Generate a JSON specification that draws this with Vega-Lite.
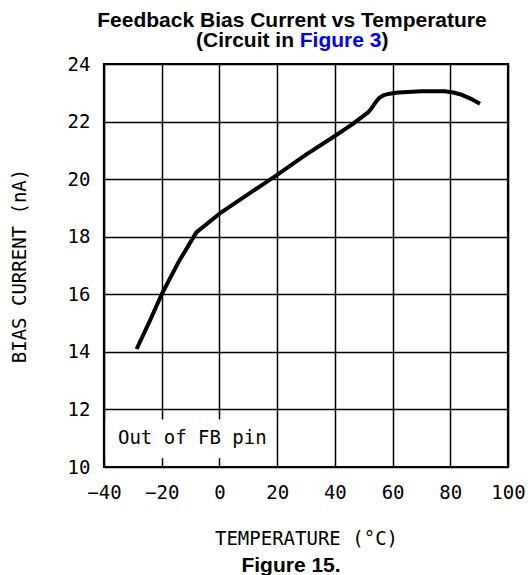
{
  "$schema": "https://vega.github.io/schema/vega-lite/v6.json",
  "width": 404,
  "height": 403,
  "autosize": {"type": "none"},
  "padding": {"left": 104, "top": 64, "right": 20, "bottom": 108},
  "background": "white",
  "title": {
    "text": "Feedback Bias Current vs Temperature",
    "font": "Liberation Sans", "fontSize": 21, "fontWeight": "bold", "color": "black",
    "anchor": "middle", "frame": "group", "dx": -14, "offset": -1
  },
  "config": {
    "view": {"stroke": "black", "strokeWidth": 2.2}
  },
  "layer": [
    {
      "data": {"values": [
        {"temp": -28.7, "current": 14.1},
        {"temp": -24, "current": 15.1},
        {"temp": -20, "current": 16.0},
        {"temp": -14, "current": 17.15},
        {"temp": -8, "current": 18.15},
        {"temp": 0, "current": 18.8},
        {"temp": 10, "current": 19.48},
        {"temp": 20, "current": 20.15},
        {"temp": 30, "current": 20.85},
        {"temp": 40, "current": 21.5},
        {"temp": 46, "current": 21.9},
        {"temp": 51.5, "current": 22.32},
        {"temp": 52.5, "current": 22.43},
        {"temp": 53.5, "current": 22.58},
        {"temp": 54.5, "current": 22.72},
        {"temp": 55.5, "current": 22.83},
        {"temp": 57, "current": 22.92},
        {"temp": 59, "current": 22.97},
        {"temp": 62, "current": 23.01},
        {"temp": 70, "current": 23.05},
        {"temp": 78, "current": 23.05},
        {"temp": 81, "current": 23.01},
        {"temp": 84, "current": 22.93},
        {"temp": 87, "current": 22.8},
        {"temp": 90.3, "current": 22.62}
      ]},
      "mark": {"type": "line", "color": "black", "strokeWidth": 4, "strokeJoin": "round", "strokeCap": "butt"},
      "encoding": {
        "x": {"field": "temp", "type": "quantitative",
          "scale": {"domain": [-40, 100], "nice": false, "zero": false},
          "axis": {"values": [-40, -20, 0, 20, 40, 60, 80, 100], "grid": true, "gridColor": "black", "gridWidth": 1.5, "gridOpacity": 1,
            "domain": false, "ticks": false, "labelFont": "DejaVu Sans Mono", "labelFontSize": 19, "labelColor": "black",
            "labelPadding": 16, "labelFlush": false, "labelOverlap": false,
            "title": "TEMPERATURE (°C)", "titleFont": "DejaVu Sans Mono", "titleFontSize": 19, "titleFontWeight": "normal",
            "titleColor": "black", "titlePadding": 27}},
        "y": {"field": "current", "type": "quantitative",
          "scale": {"domain": [10, 24], "nice": false, "zero": false},
          "axis": {"values": [10, 12, 14, 16, 18, 20, 22, 24], "grid": true, "gridColor": "black", "gridWidth": 1.5, "gridOpacity": 1,
            "domain": false, "ticks": false, "labelFont": "DejaVu Sans Mono", "labelFontSize": 19, "labelColor": "black",
            "labelPadding": 14, "labelFlush": false, "labelOverlap": false,
            "title": "BIAS CURRENT (nA)", "titleFont": "DejaVu Sans Mono", "titleFontSize": 19, "titleFontWeight": "normal",
            "titleColor": "black", "titlePadding": 38}}
      }
    },
    {
      "data": {"values": [{"label": "box"}]},
      "mark": {"type": "rect", "fill": "white", "stroke": null},
      "encoding": {
        "x": {"datum": -39.4, "type": "quantitative"},
        "x2": {"datum": 17},
        "y": {"datum": 10.3, "type": "quantitative"},
        "y2": {"datum": 11.65}
      }
    },
    {
      "data": {"values": [{"label": "Out of FB pin"}]},
      "mark": {"type": "text", "font": "DejaVu Sans Mono", "fontSize": 19, "color": "black", "align": "center", "baseline": "middle"},
      "encoding": {
        "text": {"field": "label"},
        "x": {"datum": -9.4, "type": "quantitative"},
        "y": {"datum": 11.0, "type": "quantitative"}
      }
    },
    {
      "data": {"values": [{"label": "(Circuit in"}]},
      "mark": {"type": "text", "font": "Liberation Sans", "fontSize": 21, "fontWeight": "bold", "color": "black", "align": "left", "baseline": "alphabetic"},
      "encoding": {
        "text": {"field": "label"},
        "x": {"datum": -8.12, "type": "quantitative"},
        "y": {"datum": 24.58, "type": "quantitative"}
      }
    },
    {
      "data": {"values": [{"label": "Figure 3"}]},
      "mark": {"type": "text", "font": "Liberation Sans", "fontSize": 21, "fontWeight": "bold", "color": "#0000ff", "align": "left", "baseline": "alphabetic"},
      "encoding": {
        "text": {"field": "label"},
        "x": {"datum": 27.84, "type": "quantitative"},
        "y": {"datum": 24.58, "type": "quantitative"}
      }
    },
    {
      "data": {"values": [{"label": ")"}]},
      "mark": {"type": "text", "font": "Liberation Sans", "fontSize": 21, "fontWeight": "bold", "color": "black", "align": "left", "baseline": "alphabetic"},
      "encoding": {
        "text": {"field": "label"},
        "x": {"datum": 56.15, "type": "quantitative"},
        "y": {"datum": 24.58, "type": "quantitative"}
      }
    },
    {
      "data": {"values": [{"label": "Figure 15."}]},
      "mark": {"type": "text", "font": "Liberation Sans", "fontSize": 21, "fontWeight": "bold", "color": "black", "align": "center", "baseline": "alphabetic"},
      "encoding": {
        "text": {"field": "label"},
        "x": {"datum": 24.8, "type": "quantitative"},
        "y": {"datum": 6.35, "type": "quantitative"}
      }
    }
  ]
}
